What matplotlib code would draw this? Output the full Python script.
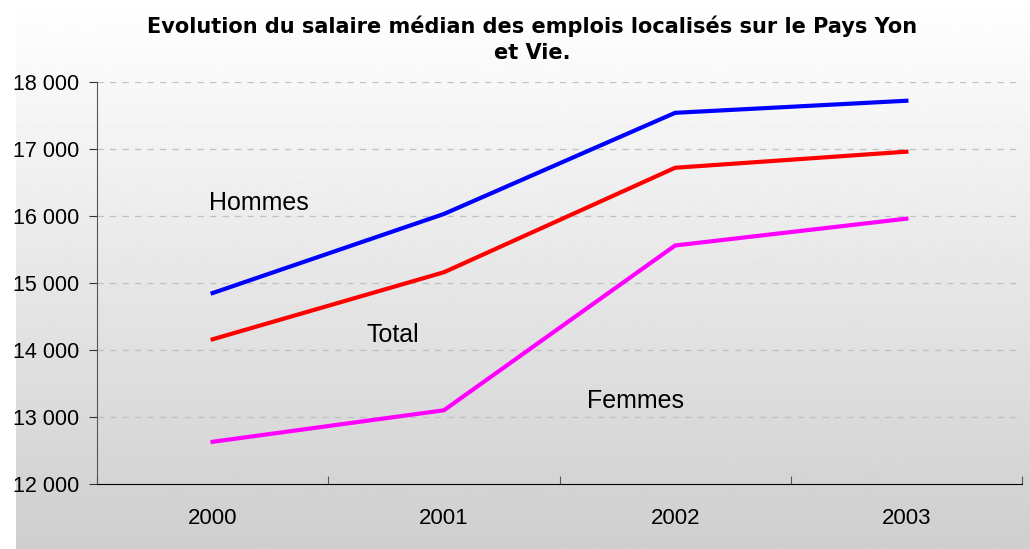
import matplotlib.pyplot as plt
import numpy as np
from matplotlib.ticker import FuncFormatter

years = ["2000", "2001", "2002", "2003"]
hommes = [14850, 16030, 17540, 17720]
total = [14160, 15160, 16720, 16960]
femmes = [12630, 13100, 15560, 15960]

plt.rcParams['font.family'] = ['Liberation Sans', 'DejaVu Sans']

fig = plt.figure(figsize=(10.3, 5.49), dpi=100, facecolor="white")

# fond en degrade (blanc en haut, gris en bas)
bg = fig.add_axes([16/1030, 0, 1 - 16/1030, 1], zorder=-10)
grad = np.linspace(1.0, 0.81, 256).reshape(-1, 1)
bg.imshow(grad, aspect="auto", cmap="gray", vmin=0, vmax=1, extent=[0, 1, 0, 1])
bg.axis("off")

ax = fig.add_axes([97/1030, 1 - 484/549, (1022-97)/1030, (484-82)/549])
ax.patch.set_alpha(0)
x = np.arange(len(years))
ax.plot(x, hommes, color="#0000ff", lw=3)
ax.plot(x, total, color="#ff0000", lw=3)
ax.plot(x, femmes, color="#ff00ff", lw=3)

ax.set_xlim(-0.5, 3.5)
ax.set_ylim(12000, 18000)
ax.set_yticks(np.arange(12000, 18001, 1000))
ax.yaxis.set_major_formatter(FuncFormatter(lambda v, p: f"{int(v):,}".replace(",", " ")))
ax.set_xticks(np.arange(-0.5, 3.6, 1))
ax.set_xticklabels([])
ax.set_xticks(x, minor=True)
ax.set_xticklabels(years, minor=True)
ax.tick_params(axis="x", which="minor", length=0, pad=17, labelsize=16)
ax.tick_params(axis="x", which="major", length=6, direction="in", color="#555555")
ax.tick_params(axis="y", length=6, direction="out", labelsize=15.5, pad=7, color="#333333")
ax.grid(axis="y", linestyle=(0, (5, 5)), color="#c0c0c0", lw=0.9)
ax.spines["top"].set_visible(False)
ax.spines["right"].set_visible(False)
ax.spines["left"].set_color("#555555")
ax.spines["bottom"].set_color("black")
ax.set_axisbelow(True)

ax.text(0.2, 16190, "Hommes", fontsize=18, ha="center", va="center")
ax.text(0.78, 14220, "Total", fontsize=18, ha="center", va="center")
ax.text(1.83, 13240, "Femmes", fontsize=18, ha="center", va="center")

fig.text(0.517, 0.928, "Evolution du salaire médian des emplois localisés sur le Pays Yon\net Vie.",
         ha="center", va="center", fontsize=15, fontweight="bold", family="DejaVu Sans",
         linespacing=1.38)

plt.savefig("out.png", dpi=100)
